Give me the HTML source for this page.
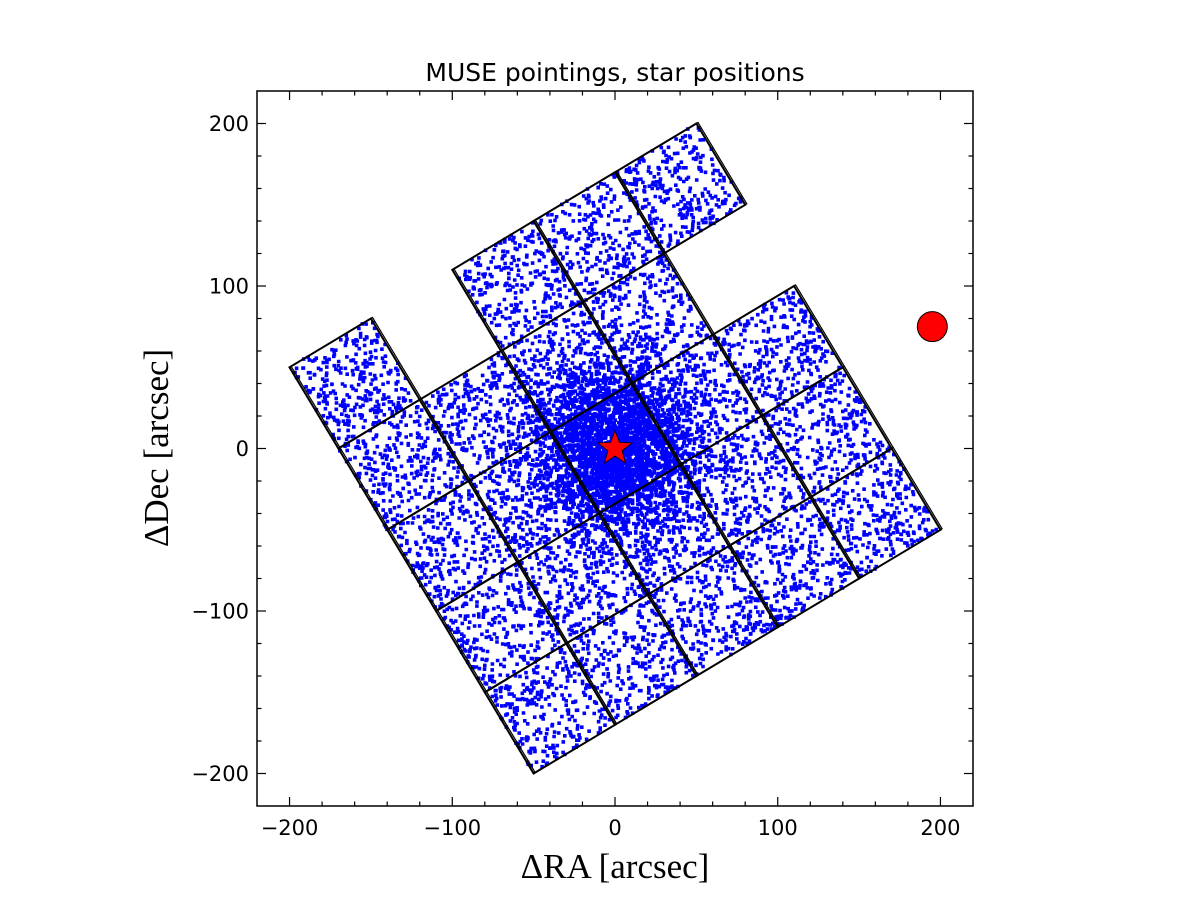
<!DOCTYPE html>
<html><head><meta charset="utf-8"><style>
body{margin:0;background:#fff;}
svg{display:block;}
text{font-family:"DejaVu Sans","Liberation Sans",sans-serif;}
</style></head><body>
<svg id="chart" width="1200" height="900" viewBox="0 0 1200 900">
<rect width="1200" height="900" fill="#fff"/>
<defs><clipPath id="clip"><rect x="257" y="91" width="716" height="715"/></clipPath></defs>
<g id="tiles" clip-path="url(#clip)"></g>
<g id="stars" clip-path="url(#clip)"></g>
<g id="tileOutlines" clip-path="url(#clip)"></g>
<g id="markers"></g>
<rect x="257" y="91" width="716" height="715" fill="none" stroke="#000" stroke-width="1.5"/>
<g id="axes"></g>
<text x="615" y="81" font-size="25" text-anchor="middle">MUSE pointings, star positions</text>
<text x="615" y="878" font-size="35" text-anchor="middle" style="font-family:'Liberation Serif',serif">ΔRA  [arcsec]</text>
<text transform="translate(168,448) rotate(-90)" font-size="35" text-anchor="middle" style="font-family:'Liberation Serif',serif">ΔDec  [arcsec]</text>
</svg>
<script>
// data
const xTicks = [-200, -100, 0, 100, 200];
const yTicks = [-200, -100, 0, 100, 200];
const xRange = [-220, 220];
const yRange = [-220, 220];
const gridOrigin = [-50, -200];
const stepU = [50, 30];
const stepV = [-30, 50];
const tileI = [0,1,2,3,4, 0,1,2,3,4, 0,1,2,3,4, 0,1,2,3, 0,2,3,4];
const tileJ = [0,0,0,0,0, 1,1,1,1,1, 2,2,2,2,2, 3,3,3,3, 4,4,4,4];
const targetStar = [0, 0];
const referenceCircle = [195, 75];
const uniformStarCount = 6200;
const clusterStarCount = 3200;
const clusterSigma = 26;

const NS = 'http://www.w3.org/2000/svg';
const X0 = 257, X1 = 973, Y0 = 806, Y1 = 91;
function sx(v){ return X0 + (v - xRange[0]) / (xRange[1] - xRange[0]) * (X1 - X0); }
function sy(v){ return Y0 - (v - yRange[0]) / (yRange[1] - yRange[0]) * (Y0 - Y1); }
function gridPt(i, j){ return [gridOrigin[0] + i*stepU[0] + j*stepV[0], gridOrigin[1] + i*stepU[1] + j*stepV[1]]; }
function mk(tag, attrs, parent){ const e = document.createElementNS(NS, tag); for (const k in attrs) e.setAttribute(k, attrs[k]); parent.appendChild(e); return e; }

const outG = document.getElementById('tileOutlines');
const starsG = document.getElementById('stars');
const tileSet = new Set(tileI.map((i, k) => i + ',' + tileJ[k]));

tileI.forEach((i, k) => {
  const j = tileJ[k];
  const pts = [gridPt(i,j), gridPt(i+1,j), gridPt(i+1,j+1), gridPt(i,j+1)].map(p => sx(p[0]).toFixed(1) + ',' + sy(p[1]).toFixed(1)).join(' ');
  const p = mk('polygon', {points: pts, fill: 'none', stroke: '#000', 'stroke-width': 2}, outG);
  
  
  const p2 = mk('polygon', {points: pts, fill: 'none', stroke: '#000', 'stroke-width': 1.2, transform: 'translate(1.6,-1)'}, outG);
  
  
});

let seed = 12345;
function rnd(){ seed = (seed * 1103515245 + 12345) % 2147483648; return seed / 2147483648; }
function inGrid(x, y){
  const dx = x - gridOrigin[0], dy = y - gridOrigin[1];
  const det = stepU[0]*stepV[1] - stepU[1]*stepV[0];
  const a = (dx*stepV[1] - dy*stepV[0]) / det;
  const b = (stepU[0]*dy - stepU[1]*dx) / det;
  return tileSet.has(Math.floor(a) + ',' + Math.floor(b));
}
let d = '';
function addStar(x, y){ const px = sx(x), py = sy(y); d += 'M' + (px-1.8).toFixed(1) + ' ' + (py-1.8).toFixed(1) + 'h3.6v3.6h-3.6z'; }
let n = 0;
while (n < uniformStarCount){
  const a = rnd()*5, b = rnd()*5;
  if (!tileSet.has(Math.floor(a) + ',' + Math.floor(b))) continue;
  addStar(gridOrigin[0] + a*stepU[0] + b*stepV[0], gridOrigin[1] + a*stepU[1] + b*stepV[1]);
  n++;
}
n = 0;
while (n < clusterStarCount){
  const r = clusterSigma * Math.sqrt(-2*Math.log(rnd()+1e-9)), t = rnd()*2*Math.PI;
  const x = targetStar[0] + r*Math.cos(t), y = targetStar[1] + r*Math.sin(t);
  if (!inGrid(x, y)) continue;
  addStar(x, y); n++;
}
const sp = mk('path', {d: d, fill: '#0000ff'}, starsG);



const mG = document.getElementById('markers');
const cx = sx(targetStar[0]), cy = sy(targetStar[1]);
let sd = '';
for (let k = 0; k < 10; k++){
  const r = k % 2 === 0 ? 18 : 7.5, ang = -Math.PI/2 + k*Math.PI/5;
  sd += (k ? 'L' : 'M') + (cx + r*Math.cos(ang)).toFixed(1) + ' ' + (cy + r*Math.sin(ang)).toFixed(1);
}
const st = mk('path', {d: sd + 'Z', fill: '#ff0000', stroke: '#000', 'stroke-width': 0.8}, mG);


const rc = mk('circle', {cx: sx(referenceCircle[0]), cy: sy(referenceCircle[1]), r: 15, fill: '#ff0000', stroke: '#000', 'stroke-width': 1}, mG);



const ax = document.getElementById('axes');
for (let v = xRange[0] + 20; v < xRange[1]; v += 20){
  const major = xTicks.includes(v), L = major ? 9 : 4.5, x = sx(v);
  mk('line', {x1: x, x2: x, y1: Y0, y2: Y0 - L, stroke: '#000', 'stroke-width': 1.2}, ax);
  mk('line', {x1: x, x2: x, y1: Y1, y2: Y1 + L, stroke: '#000', 'stroke-width': 1.2}, ax);
}
for (let v = yRange[0] + 20; v < yRange[1]; v += 20){
  const major = yTicks.includes(v), L = major ? 9 : 4.5, y = sy(v);
  mk('line', {x1: X0, x2: X0 + L, y1: y, y2: y, stroke: '#000', 'stroke-width': 1.2}, ax);
  mk('line', {x1: X1, x2: X1 - L, y1: y, y2: y, stroke: '#000', 'stroke-width': 1.2}, ax);
}
function fmt(v){ return v < 0 ? '\u2212' + (-v) : '' + v; }
xTicks.forEach(v => {
  const t = mk('text', {x: sx(v), y: Y0 + 29, 'font-size': 21, 'text-anchor': 'middle'}, ax);
  t.textContent = fmt(v);
  
  
});
yTicks.forEach(v => {
  const t = mk('text', {x: X0 - 8, y: sy(v) + 7.5, 'font-size': 21, 'text-anchor': 'end'}, ax);
  t.textContent = fmt(v);
  
  
});
</script>
</body></html>
